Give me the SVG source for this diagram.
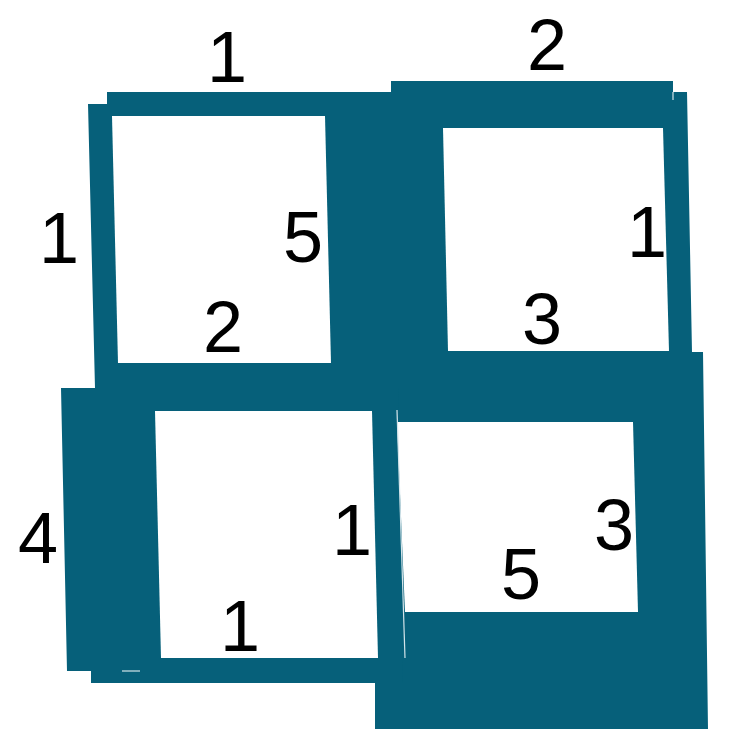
<svg xmlns="http://www.w3.org/2000/svg" width="742" height="741" viewBox="0 0 742 741">
  <style>
    .wall { fill: #06607a; }
    .inner { fill: #ffffff; }
    .seam { stroke: #d4e4ea; stroke-width: 1.2; fill: none; }
    .num { font-family: "Liberation Sans", Arial, sans-serif; font-size: 72px; fill: #000000; text-anchor: middle; }
  </style>
  <rect x="0" y="0" width="742" height="741" fill="#ffffff"/>
  <g id="walls">
    <polygon id="wall-tl" class="wall" points="107,92 392,92 392,388 95,388 88,104 107,104"/>
    <polygon id="wall-tr" class="wall" points="391,81 673,81 673,92 687,92 692,352 391,352"/>
    <polygon id="wall-br" class="wall" points="385,352 703,352 708,729 375,729 375,683 385,683"/>
    <polygon id="wall-bl" class="wall" points="61,388 398,388 403,683 91,683 91,671 67,671"/>
  </g>
  <g id="rooms">
    <polygon id="room-tl" class="inner" points="112,116 325,116 331,363 118,363"/>
    <polygon id="room-tr" class="inner" points="443,128 663,128 669,351 448,351"/>
    <polygon id="room-bl" class="inner" points="155,411 372,411 378,658 161,658"/>
    <polygon id="room-br" class="inner" points="397,422 633,422 638,612 405,612"/>
  </g>
  <g id="seams">
    <line class="seam" x1="397" y1="410" x2="405" y2="658"/>
    <line class="seam" x1="122" y1="671" x2="140" y2="671"/>
    <line class="seam" x1="673" y1="92" x2="673" y2="100"/>
  </g>
  <g id="labels">
    <text class="num" x="227" y="82">1</text>
    <text class="num" x="547" y="70">2</text>
    <text class="num" x="59" y="263">1</text>
    <text class="num" x="303" y="262">5</text>
    <text class="num" x="223" y="352">2</text>
    <text class="num" x="647" y="257">1</text>
    <text class="num" x="542" y="344">3</text>
    <text class="num" x="38" y="563">4</text>
    <text class="num" x="352" y="555">1</text>
    <text class="num" x="240" y="651">1</text>
    <text class="num" x="521" y="599">5</text>
    <text class="num" x="614" y="550">3</text>
  </g>
</svg>
